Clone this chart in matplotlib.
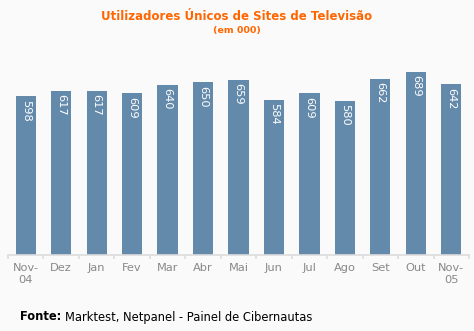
import numpy as np
import matplotlib.pyplot as plt

meses = ["Nov-\n04", "Dez", "Jan", "Fev", "Mar", "Abr", "Mai", "Jun", "Jul",
         "Ago", "Set", "Out", "Nov-\n05"]
utilizadores = [598, 617, 617, 609, 640, 650, 659, 584, 609, 580, 662, 689, 642]

fundo = "#fafafa"
cor_barra = "#6389ab"
laranja = "#ff6600"

fig = plt.figure(figsize=(4.74, 3.31), dpi=100, facecolor=fundo)
ax = fig.add_axes([8 / 474, 76 / 331, 461 / 474, 213 / 331])
ax.set_facecolor(fundo)

x = np.arange(len(meses))
barras = ax.bar(x, utilizadores, width=0.57, color=cor_barra)

for b, v in zip(barras, utilizadores):
    ax.text(b.get_x() + b.get_width() / 2, v - 14, str(v),
            rotation=270, ha="center", va="top", color="white", fontsize=8.2)

ax.set_xlim(-0.5, len(meses) - 0.5)
ax.set_ylim(0, 800)

for s in ["top", "right", "left"]:
    ax.spines[s].set_visible(False)
ax.spines["bottom"].set_color("#dddddd")
ax.spines["bottom"].set_linewidth(1.2)

ax.set_yticks([])
ax.set_xticks(x)
ax.set_xticklabels(meses, color="#888888", fontsize=8.2, linespacing=1.25)
ax.tick_params(axis="x", which="major", length=0, pad=6)
ax.set_xticks(np.arange(-0.5, len(meses), 1), minor=True)
ax.tick_params(axis="x", which="minor", length=3, color="#dddddd", width=1.2)

fig.text(0.5, 1 - 17 / 331, "Utilizadores Únicos de Sites de Televisão",
         ha="center", va="center", color=laranja, fontsize=8.5, fontweight="bold")
fig.text(0.5, 1 - 30 / 331, "(em 000)", ha="center", va="center",
         color=laranja, fontsize=6.8, fontweight="bold")

fig.text(20 / 474, 1 - 317 / 331, "Fonte:", ha="left", va="center",
         fontsize=8.3, fontweight="bold", color="black")
fig.text(65 / 474, 1 - 317 / 331, "Marktest, Netpanel - Painel de Cibernautas",
         ha="left", va="center", fontsize=8.3, color="black")

fig.savefig("out.png", dpi=100, facecolor=fundo)
